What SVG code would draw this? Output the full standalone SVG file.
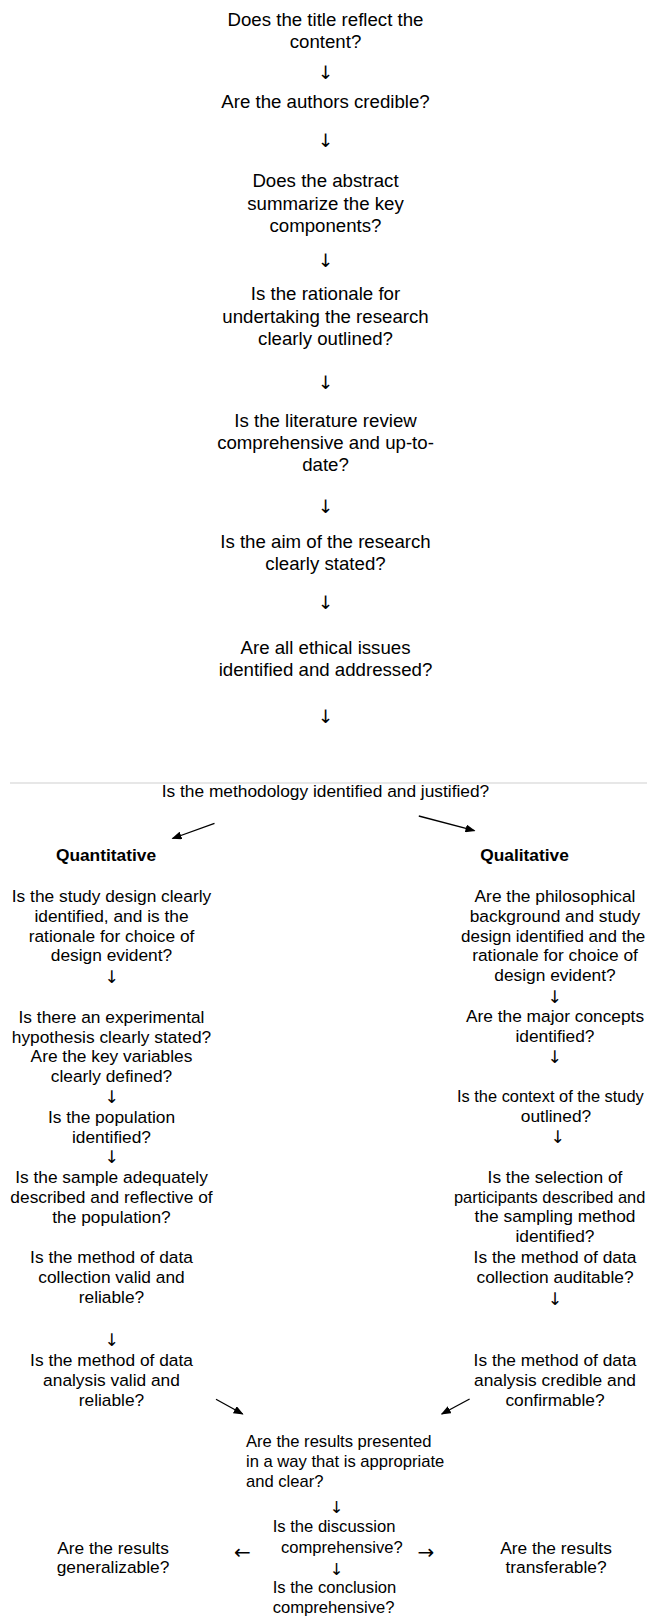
<svg xmlns="http://www.w3.org/2000/svg" width="647" height="1619" viewBox="0 0 647 1619">
<style>
text{font-family:"Liberation Sans",Arial,sans-serif;fill:#000;}
.t{font-size:18.67px;text-anchor:middle;}
.m{font-size:17.33px;text-anchor:middle;}
.b{font-size:17.33px;font-weight:bold;text-anchor:middle;}
.s{font-size:16.6px;}
.ar{font-family:"DejaVu Sans",sans-serif;font-size:18.67px;text-anchor:middle;}
.ars{font-family:"DejaVu Sans",sans-serif;font-size:17.33px;text-anchor:middle;}
.sm{font-family:"DejaVu Sans",sans-serif;font-size:16.6px;text-anchor:middle;}
.sh{font-family:"DejaVu Sans",sans-serif;font-size:20px;text-anchor:middle;}
.ln{stroke:#000;stroke-width:1.3;fill:none;}
</style>
<defs>
<marker id="ah" viewBox="0 0 10 8" refX="9" refY="4" markerWidth="10" markerHeight="8" markerUnits="userSpaceOnUse" orient="auto">
<path d="M0,0 L10,4 L0,8 Z" fill="#000"/>
</marker>
</defs>
<rect width="647" height="1619" fill="#fff"/>

<g id="n1"><text class="t" x="325.5" y="25.5">Does the title reflect the</text><text class="t" x="325.5" y="48">content?</text></g>
<g id="n2"><text class="t" x="325.5" y="108.3">Are the authors credible?</text></g>
<g id="n3"><text class="t" x="325.5" y="187">Does the abstract</text><text class="t" x="325.5" y="209.5">summarize the key</text><text class="t" x="325.5" y="232">components?</text></g>
<g id="n4"><text class="t" x="325.5" y="300">Is the rationale for</text><text class="t" x="325.5" y="322.5">undertaking the research</text><text class="t" x="325.5" y="345">clearly outlined?</text></g>
<g id="n5"><text class="t" x="325.5" y="427">Is the literature review</text><text class="t" x="325.5" y="449">comprehensive and up-to-</text><text class="t" x="325.5" y="471">date?</text></g>
<g id="n6"><text class="t" x="325.5" y="548">Is the aim of the research</text><text class="t" x="325.5" y="570">clearly stated?</text></g>
<g id="n7"><text class="t" x="325.5" y="654">Are all ethical issues</text><text class="t" x="325.5" y="676">identified and addressed?</text></g>

<g id="divider"><line x1="10" y1="783" x2="647" y2="783" stroke="#cfcfcf" stroke-width="1"/></g>
<g id="n8"><text class="m" x="325.5" y="796.7">Is the methodology identified and justified?</text></g>

<g id="quant"><text class="b" x="106" y="860.7">Quantitative</text></g>
<g id="qual"><text class="b" x="524.5" y="860.7">Qualitative</text></g>

<g id="q1"><text class="m" x="111.5" y="901.7">Is the study design clearly</text><text class="m" x="111.5" y="921.6">identified, and is the</text><text class="m" x="111.5" y="941.5">rationale for choice of</text><text class="m" x="111.5" y="961.4">design evident?</text></g>
<g id="q2"><text class="m" x="111.5" y="1022.8">Is there an experimental</text><text class="m" x="111.5" y="1042.6">hypothesis clearly stated?</text><text class="m" x="111.5" y="1062.3">Are the key variables</text><text class="m" x="111.5" y="1082">clearly defined?</text></g>
<g id="q3"><text class="m" x="111.5" y="1122.7">Is the population</text><text class="m" x="111.5" y="1142.5">identified?</text></g>
<g id="q4"><text class="m" x="111.5" y="1183">Is the sample adequately</text><text class="m" x="111.5" y="1202.8">described and reflective of</text><text class="m" x="111.5" y="1222.6">the population?</text></g>
<g id="q5"><text class="m" x="111.5" y="1263">Is the method of data</text><text class="m" x="111.5" y="1283">collection valid and</text><text class="m" x="111.5" y="1303">reliable?</text></g>
<g id="q6"><text class="m" x="111.5" y="1366">Is the method of data</text><text class="m" x="111.5" y="1386">analysis valid and</text><text class="m" x="111.5" y="1406">reliable?</text></g>

<g id="l1"><text class="m" x="555" y="901.7">Are the philosophical</text><text class="m" x="555" y="921.6">background and study</text><text x="461" y="941.5" font-size="17">design identified and the</text><text class="m" x="555" y="961.4">rationale for choice of</text><text class="m" x="555" y="981.3">design evident?</text></g>
<g id="l2"><text class="m" x="555" y="1021.7">Are the major concepts</text><text class="m" x="555" y="1041.6">identified?</text></g>
<g id="l3"><text x="457" y="1101.7" font-size="16.4">Is the context of the study</text><text class="m" x="556" y="1121.6">outlined?</text></g>
<g id="l4"><text class="m" x="555" y="1182.7">Is the selection of</text><text x="454" y="1202.6" font-size="16.4">participants described and</text><text class="m" x="555" y="1222.4">the sampling method</text><text class="m" x="555" y="1242.2">identified?</text></g>
<g id="l5"><text class="m" x="555" y="1263">Is the method of data</text><text class="m" x="555" y="1283">collection auditable?</text></g>
<g id="l6"><text class="m" x="555" y="1366">Is the method of data</text><text class="m" x="555" y="1386">analysis credible and</text><text class="m" x="555" y="1406">confirmable?</text></g>

<g id="r1"><text class="s" x="246" y="1446.7">Are the results presented</text><text class="s" x="246" y="1466.7">in a way that is appropriate</text><text class="s" x="246" y="1486.7">and clear?</text></g>
<g id="r2"><text class="s" x="272.7" y="1531.7">Is the discussion</text><text class="s" x="281" y="1553.3">comprehensive?</text></g>
<g id="r3"><text class="s" x="272.7" y="1593.3">Is the conclusion</text><text class="s" x="272.7" y="1613.3">comprehensive?</text></g>
<g id="r4"><text class="m" x="113" y="1553.5">Are the results</text><text class="m" x="113" y="1573.4">generalizable?</text></g>
<g id="r5"><text class="m" x="556" y="1553.5">Are the results</text><text class="m" x="556" y="1573.4">transferable?</text></g>

<g id="connectors">
<text class="ar" x="325.5" y="79">↓</text>
<text class="ar" x="325.5" y="147">↓</text>
<text class="ar" x="325.5" y="267">↓</text>
<text class="ar" x="325.5" y="389">↓</text>
<text class="ar" x="325.5" y="513">↓</text>
<text class="ar" x="325.5" y="609">↓</text>
<text class="ar" x="325.5" y="723">↓</text>
<line class="ln" x1="214.5" y1="823.3" x2="172.5" y2="838.5" marker-end="url(#ah)"/>
<line class="ln" x1="418.8" y1="816" x2="474.5" y2="830.7" marker-end="url(#ah)"/>
<text class="ars" x="111.7" y="983">↓</text>
<text class="ars" x="111.7" y="1103">↓</text>
<text class="ars" x="111.7" y="1163">↓</text>
<text class="ars" x="111.7" y="1345.5">↓</text>
<text class="ars" x="554.7" y="1003">↓</text>
<text class="ars" x="554.7" y="1063">↓</text>
<text class="ars" x="557.7" y="1143">↓</text>
<text class="ars" x="555" y="1304.5">↓</text>
<line class="ln" x1="216" y1="1399.3" x2="242.7" y2="1414" marker-end="url(#ah)"/>
<line class="ln" x1="469.6" y1="1399" x2="441.7" y2="1414" marker-end="url(#ah)"/>
<text class="sm" x="336.7" y="1513">↓</text>
<text class="sm" x="336.7" y="1574.5">↓</text>
<text class="sh" x="242.5" y="1559">←</text>
<text class="sh" x="425.8" y="1559">→</text>
</g>
</svg>
